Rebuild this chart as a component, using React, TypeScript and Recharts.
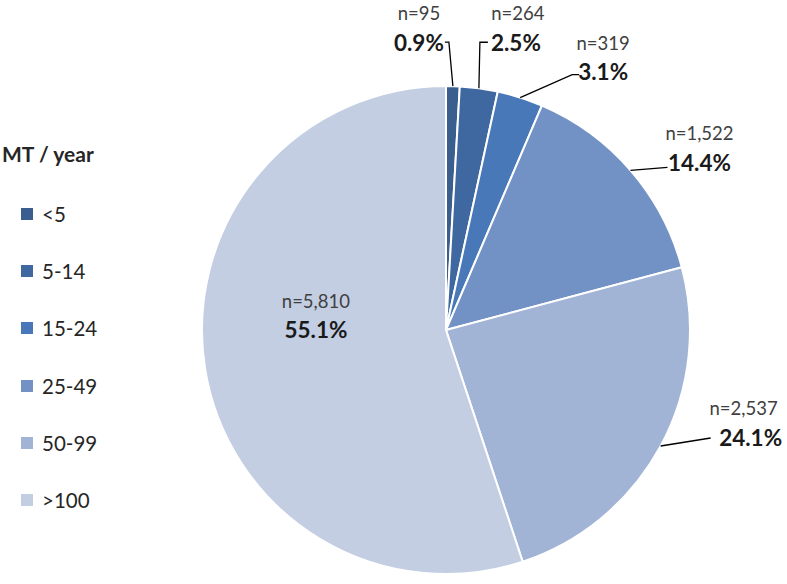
import { PieChart, Pie, Cell, Legend } from "recharts";

const categories = ["<5", "5-14", "15-24", "25-49", "50-99", ">100"];
const counts = [95, 264, 319, 1522, 2537, 5810];
const countLabels = ["n=95", "n=264", "n=319", "n=1,522", "n=2,537", "n=5,810"];
const percentLabels = ["0.9%", "2.5%", "3.1%", "14.4%", "24.1%", "55.1%"];
const colors = ["#3a5f8f", "#3f68a1", "#4878b8", "#7292c6", "#a1b4d6", "#c3cee3"];

const data = categories.map((name, i) => ({ name, value: counts[i] }));

// leader line / text offsets relative to the point on the rim
const labelLayout = [
  { elbow: [-4, -44], end: [-8, -44], text: [-34, -44], nDx: 0 },
  { elbow: [1, -46], end: [9, -46], text: [37, -46], nDx: 2 },
  { elbow: [52, -23], end: [59, -23], text: [83, -26], nDx: 0 },
  { elbow: [37, -3], end: [37, -3], text: [69, -8], nDx: 0 },
  { elbow: [50, -8], end: [50, -8], text: [90, -9], nDx: -7 },
  null,
];

const RAD = Math.PI / 180;
const FONT = "Lato, 'Open Sans', sans-serif";

function renderLabel(props: any) {
  const { cx, cy, midAngle, outerRadius, index } = props;
  const cos = Math.cos(-midAngle * RAD);
  const sin = Math.sin(-midAngle * RAD);
  const layout = labelLayout[index];
  let tx: number;
  let ty: number;
  let nDx = 0;
  let line = null;
  if (layout) {
    const ax = cx + outerRadius * cos;
    const ay = cy + outerRadius * sin;
    const pts = [
      [ax, ay],
      [ax + layout.elbow[0], ay + layout.elbow[1]],
      [ax + layout.end[0], ay + layout.end[1]],
    ];
    line = (
      <polyline
        points={pts.map((p) => p.join(",")).join(" ")}
        fill="none"
        stroke="#000"
        strokeWidth={1.3}
      />
    );
    tx = ax + layout.text[0];
    ty = ay + layout.text[1];
    nDx = layout.nDx;
  } else {
    const r = outerRadius * 0.54;
    tx = cx + r * cos;
    ty = cy + r * sin - 21;
  }
  return (
    <g key={`lbl-${index}`}>
      {line}
      <text
        x={tx + nDx}
        y={ty - 29}
        textAnchor="middle"
        dominantBaseline="central"
        fontFamily={FONT}
        fontSize={18.5}
        fill="#404040"
      >
        {countLabels[index]}
      </text>
      <text
        x={tx}
        y={ty}
        textAnchor="middle"
        dominantBaseline="central"
        fontFamily={FONT}
        fontSize={22.5}
        fontWeight="bold"
        fill="#1a1a1a"
      >
        {percentLabels[index]}
      </text>
    </g>
  );
}

function LegendBox() {
  return (
    <div style={{ fontFamily: FONT, color: "#262626" }}>
      <div style={{ fontWeight: "bold", fontSize: 21, marginLeft: 2, height: 44 }}>
        MT / year
      </div>
      {categories.map((name, i) => (
        <div
          key={name}
          style={{ display: "flex", alignItems: "center", height: 57.3, fontSize: 20.5 }}
        >
          <span
            style={{
              display: "inline-block",
              width: 12,
              height: 12,
              background: colors[i],
              marginLeft: 21,
              marginRight: 9,
            }}
          />
          {name}
        </div>
      ))}
    </div>
  );
}

export default function App() {
  return (
    <div style={{ position: "absolute", left: 0, top: 0, background: "#fff" }}>
      <PieChart width={787} height={584} margin={{ top: 0, right: 0, bottom: 0, left: 0 }}>
        <Legend
          content={<LegendBox />}
          wrapperStyle={{ position: "absolute", left: 0, top: 141, width: 150 }}
        />
        <Pie
          data={data}
          dataKey="value"
          nameKey="name"
          cx={446}
          cy={330}
          outerRadius={244}
          startAngle={90}
          endAngle={-270}
          stroke="#fff"
          strokeWidth={2}
          label={renderLabel}
          labelLine={false}
          isAnimationActive={false}
        >
          {data.map((d, i) => (
            <Cell key={d.name} fill={colors[i]} />
          ))}
        </Pie>
      </PieChart>
    </div>
  );
}
